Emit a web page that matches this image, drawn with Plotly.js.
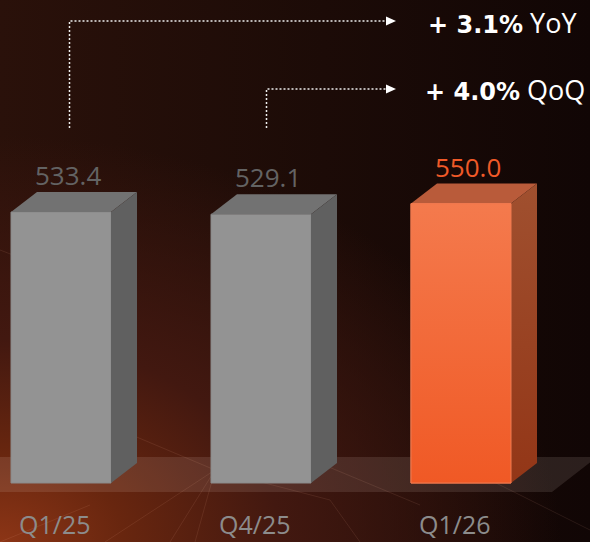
<!DOCTYPE html>
<html>
<head>
<meta charset="utf-8">
<script src="https://cdn.plot.ly/plotly-3.0.1.min.js"></script>
<style>
  html, body { margin: 0; padding: 0; background: #120706; }
  #chart {
    width: 590px; height: 542px;
    background:
      radial-gradient(ellipse 95% 75% at 0% 100%, #8c3516 0%, #68260f 22%, #421810 50%, rgba(30,12,8,0) 100%),
      linear-gradient(to right, #2a110a 0%, #1c0b07 55%, #110605 100%);
  }
</style>
</head>
<body>
<div id="chart"></div>
<script>
// ---- data ----
const categories = ['Q1/25', 'Q4/25', 'Q1/26'];
const values = [533.4, 529.1, 550.0];
const valueLabels = ['533.4', '529.1', '550.0'];
const changeValues = ['+ 3.1%', '+ 4.0%'];
const changeKinds = ['YoY', 'QoQ'];
const changeFrom = [0, 1];   // bar index the connector starts above

// ---- geometry / style ----
const W = 590, H = 542;
const BASE_PX = 483;              // pixel row of y = 0
const PX_PER_Y = 0.508;           // pixels per data unit
const PX_PER_X = 200;             // pixels per category step
const FIRST_PX = 61;              // pixel column of first bar centre
const yU = p => p / PX_PER_Y;     // px -> y units
const xU = p => p / PX_PER_X;     // px -> x units
const BAR_W = 0.5;
const DX = xU(26), DY = yU(20);

const xIdx = categories.map((c, i) => i);
const isHi = categories.map((c, i) => i === categories.length - 1);

const frontCol = isHi.map(h => h ? '#f26a38' : '#939393');
const edgeCol  = isHi.map(h => h ? '#f27448' : '#8a8a8a');
const topCol   = isHi.map(h => h ? '#b95b3a' : '#727272');
const sideCol  = isHi.map(h => h ? '#9a4426' : '#606060');
const labelCol = isHi.map(h => h ? '#f05a28' : '#636363');

const traces = [];
traces.push({
  type: 'bar', x: xIdx, y: values, width: BAR_W,
  marker: { color: frontCol, line: { color: edgeCol, width: 1 } },
  hoverinfo: 'skip', showlegend: false
});

xIdx.forEach((xi, i) => {
  const v = values[i];
  const x0 = xi - BAR_W / 2, x1 = xi + BAR_W / 2;
  // top face
  traces.push({
    type: 'scatter', mode: 'lines', fill: 'toself', fillcolor: topCol[i],
    x: [x0, x1, x1 + DX, x0 + DX, x0], y: [v, v, v + DY, v + DY, v],
    line: { width: 0 }, hoverinfo: 'skip', showlegend: false
  });
  // side face
  const side = {
    type: 'scatter', mode: 'lines', fill: 'toself', fillcolor: sideCol[i],
    x: [x1, x1, x1 + DX, x1 + DX, x1], y: [0, v, v + DY, DY, 0],
    line: { width: 0 }, hoverinfo: 'skip', showlegend: false
  };
  if (isHi[i]) {
    side.fillgradient = { type: 'vertical', colorscale: [[0, '#933617'], [1, '#a0502f']] };
  }
  traces.push(side);
  if (isHi[i]) {
    // gradient overlay on the highlighted front face
    traces.push({
      type: 'scatter', mode: 'lines', fill: 'toself',
      fillgradient: { type: 'vertical', colorscale: [[0, '#f05925'], [1, '#f47a4d']] },
      x: [x0, x1, x1, x0, x0], y: [0, 0, v, v, 0],
      line: { width: 1, color: '#f07a50' }, hoverinfo: 'skip', showlegend: false
    });
  }
});

// ---- shapes ----
const shapes = [];
// decorative faint network lines (paper coords)
const deco = [
  [120, 430, 215, 470], [215, 470, 105, 542], [215, 470, 170, 542], [215, 470, 195, 542],
  [215, 470, 330, 500], [300, 455, 420, 505], [0, 250, 130, 300], [470, 470, 590, 530],
  [90, 505, 0, 542], [330, 500, 360, 542]
];
deco.forEach(d => shapes.push({
  type: 'line', xref: 'paper', yref: 'paper', layer: 'below',
  x0: d[0] / W, y0: 1 - d[1] / H, x1: d[2] / W, y1: 1 - d[3] / H,
  line: { color: 'rgba(255,190,160,0.10)', width: 1 }
}));
// floor plate
const floorBottom = -yU(9), floorTop = yU(26);
const floorLeft = -0.4, floorRight = xU(552 - FIRST_PX);
shapes.push({
  type: 'path', xref: 'x', yref: 'y', layer: 'below',
  path: `M ${floorLeft},${floorBottom} L ${floorRight},${floorBottom} L ${floorRight + xU(45)},${floorTop} L ${floorLeft},${floorTop} Z`,
  fillcolor: 'rgba(255,235,225,0.11)', line: { width: 0 }
});
// connectors
const connYpx = [21, 89];
const connXoff = [xU(8.5), xU(5.5)];
const lineEnd = xU(386 - FIRST_PX), tipEnd = xU(396 - FIRST_PX);
changeFrom.forEach((b, k) => {
  const xs = b + connXoff[k];
  const yb = 1 - 128 / H, yt = 1 - connYpx[k] / H;
  shapes.push({
    type: 'path', xref: 'x', yref: 'paper',
    path: `M ${xs},${yb} L ${xs},${yt} L ${lineEnd},${yt}`,
    line: { color: '#eeeeee', width: 1.5, dash: '2px,2px' }
  });
  const h = 4.5 / H;
  shapes.push({
    type: 'path', xref: 'x', yref: 'paper',
    path: `M ${lineEnd},${yt + h} L ${tipEnd},${yt} L ${lineEnd},${yt - h} Z`,
    fillcolor: '#ffffff', line: { width: 0 }
  });
});

// ---- annotations ----
const annotations = [];
xIdx.forEach((xi, i) => {
  annotations.push({
    x: xi + xU(7), y: values[i] + DY, xref: 'x', yref: 'y',
    text: valueLabels[i], showarrow: false, xanchor: 'center', yanchor: 'bottom', yshift: -3,
    font: { family: 'Open Sans', size: 26, color: labelCol[i] }
  });
  annotations.push({
    x: xi - xU(6.5), y: -yU(41), xref: 'x', yref: 'y',
    text: categories[i], showarrow: false, xanchor: 'center', yanchor: 'middle',
    font: { family: 'Open Sans', size: 25, color: '#8c8c8c' }
  });
});
const changeXpx = [426, 423];
changeValues.forEach((c, k) => {
  annotations.push({
    x: changeXpx[k] / W, y: 1 - (connYpx[k] + 1) / H, xref: 'paper', yref: 'paper',
    text: '<span style="font-family:\'DejaVu Sans\';font-weight:bold;font-size:24px">' + c + '</span> ' + changeKinds[k],
    showarrow: false, xanchor: 'left', yanchor: 'middle',
    font: { family: 'Open Sans', size: 27, color: '#ffffff' }
  });
});

const layout = {
  width: W, height: H,
  margin: { l: 0, r: 0, t: 0, b: 0, pad: 0 },
  paper_bgcolor: 'rgba(0,0,0,0)', plot_bgcolor: 'rgba(0,0,0,0)',
  showlegend: false,
  xaxis: {
    range: [-FIRST_PX / PX_PER_X, (W - FIRST_PX) / PX_PER_X],
    showgrid: false, zeroline: false, showticklabels: false, fixedrange: true
  },
  yaxis: {
    range: [-(H - BASE_PX) / PX_PER_Y, BASE_PX / PX_PER_Y],
    showgrid: false, zeroline: false, showticklabels: false, fixedrange: true
  },
  shapes: shapes,
  annotations: annotations
};

Plotly.newPlot('chart', traces, layout, { displayModeBar: false, staticPlot: true });
</script>
</body>
</html>
